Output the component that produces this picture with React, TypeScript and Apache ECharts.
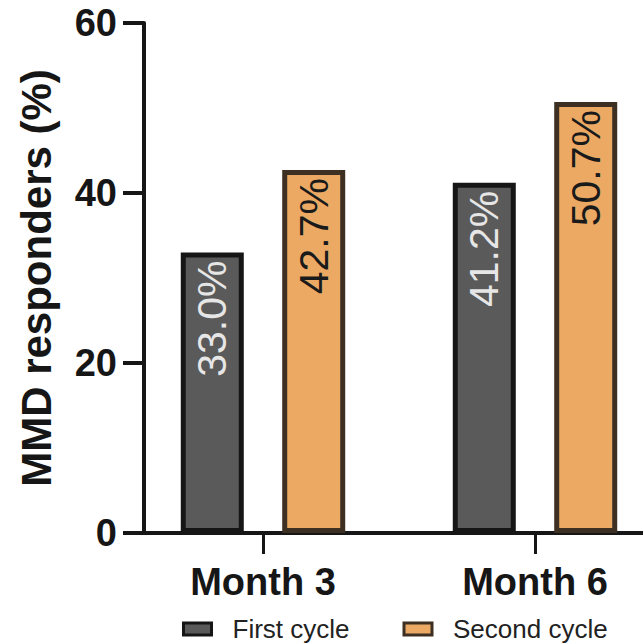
import React, { useEffect, useRef } from "react";
import * as echarts from "echarts";

const categories = ["Month 3", "Month 6"];
const seriesNames = ["First cycle", "Second cycle"];
const firstCycle = [33.0, 41.2];
const secondCycle = [42.7, 50.7];
const yTicks = [0, 20, 40, 60];

export default function App() {
  const ref = useRef<HTMLDivElement>(null);
  useEffect(() => {
    if (!ref.current) return;
    const chart = echarts.init(ref.current, null, { renderer: "svg" });
    const font = "'Liberation Sans', Arial, sans-serif";
    const fills = ["#5a5a5a", "#eba964"];
    const borders = ["#161616", "#3d3022"];
    const labelColors = ["#e6e6e6", "#1a1a1a"];
    const data = [firstCycle, secondCycle];
    chart.setOption({
      animation: false,
      backgroundColor: "#ffffff",
      grid: { left: 127, top: 23, width: 544, height: 510, outerBoundsMode: "none", containLabel: false },
      legend: {
        left: 177,
        top: 611,
        itemWidth: 28,
        itemHeight: 12,
        itemGap: 53,
        textStyle: { fontFamily: font, fontSize: 26, color: "#222", padding: [0, 0, 0, 16] },
        data: seriesNames.map((n, i) => ({
          name: n,
          icon: "rect",
          itemStyle: { color: fills[i], borderColor: borders[i], borderWidth: 3 },
        })),
      },
      xAxis: {
        type: "category",
        data: categories,
        axisLine: { lineStyle: { color: "#161616", width: 4 } },
        axisTick: { show: true, alignWithLabel: true, length: 21, lineStyle: { color: "#161616", width: 3 } },
        axisLabel: { fontFamily: font, fontSize: 38, fontWeight: "bold", color: "#161616", margin: 30 },
      },
      yAxis: {
        type: "value",
        min: yTicks[0],
        max: yTicks[yTicks.length - 1],
        interval: 20,
        offset: -17,
        name: "MMD responders (%)",
        nameLocation: "middle",
        nameGap: 87,
        nameTextStyle: { fontFamily: font, fontSize: 42, fontWeight: "bold", color: "#161616" },
        axisLine: { show: true, lineStyle: { color: "#161616", width: 4 } },
        axisTick: { show: true, length: 21, lineStyle: { color: "#161616", width: 4 } },
        axisLabel: { fontFamily: font, fontSize: 38, fontWeight: "bold", color: "#161616", margin: 27 },
        splitLine: { show: false },
      },
      series: seriesNames.map((n, i) => ({
        name: n,
        type: "bar",
        data: data[i],
        barWidth: 63,
        barGap: "61%",
        itemStyle: { color: fills[i], borderColor: borders[i], borderWidth: 5 },
        label: {
          show: true,
          position: "insideTop",
          rotate: 90,
          align: "right",
          verticalAlign: "middle",
          distance: 8,
          fontFamily: font,
          fontSize: 41,
          color: labelColors[i],
          formatter: (p: any) => p.value.toFixed(1) + "%",
        },
      })),
    });
    return () => chart.dispose();
  }, []);
  return <div ref={ref} style={{ position: "fixed", left: 0, top: 0, width: 643, height: 644 }} />;
}
